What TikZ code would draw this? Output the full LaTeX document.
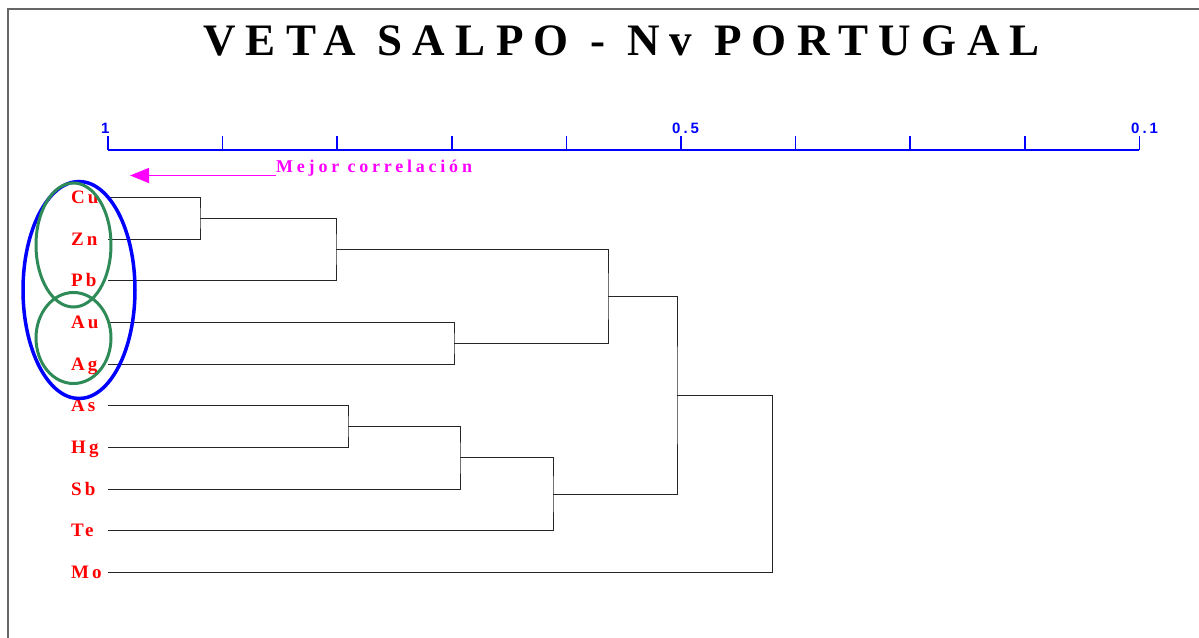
\documentclass[tikz,border=0pt]{standalone}
\usepackage{fontspec}
\setmainfont{Liberation Serif}
\newfontfamily\titleserif[LetterSpace=23]{Liberation Serif}
\newfontfamily\hintserif[LetterSpace=21]{Liberation Serif}
\newfontfamily\spacedserif[LetterSpace=16]{Liberation Serif}
\newfontfamily\spacedsans[LetterSpace=20]{Liberation Sans}
\usetikzlibrary{arrows.meta}
\definecolor{groupgreen}{RGB}{46,139,87}
\definecolor{hintpink}{RGB}{255,0,255}
\definecolor{axisblue}{RGB}{0,0,255}
\definecolor{labelred}{RGB}{255,0,0}

\begin{document}
\begin{tikzpicture}[x=1pt,y=-1pt,
  frameline/.style={draw=black!60, line width=1.5pt},
  axisline/.style={draw=axisblue, line width=1.5pt},
  ticklabel/.style={text=axisblue, inner sep=0pt, anchor=base west,
    font=\spacedsans\bfseries\fontsize{15}{15}\selectfont},
  titletext/.style={inner sep=0pt, anchor=base west,
    font=\titleserif\bfseries\fontsize{45}{45}\selectfont},
  hinttext/.style={text=hintpink, inner sep=0pt, anchor=base west,
    font=\hintserif\bfseries\fontsize{18}{18}\selectfont},
  leaflabel/.style={text=labelred, inner sep=0pt, anchor=base west,
    font=\spacedserif\bfseries\fontsize{19}{19}\selectfont},
  branch/.style={draw=black!85, line width=1pt},
  bigring/.style={draw=axisblue, line width=3.5pt},
  smallring/.style={draw=groupgreen, line width=3pt}]
\useasboundingbox (0,0) rectangle (1199,637);

% frame
\draw[frameline] (8,660) -- (8,9) -- (1210,9);

% title
\node[titletext] (title) at (203,55) {VETA SALPO - Nv PORTUGAL};

% similarity axis
\draw[axisline] (108,150) -- (1139.4,150);
\foreach \i in {0,...,9}
  \draw[axisline] ({108+\i*114.6},150) -- ({108+\i*114.6},136);
\node[ticklabel] (t1) at (101,133) {1};
\node[ticklabel] (t05) at (672,133) {0.5};
\node[ticklabel] (t01) at (1131,133) {0.1};

% direction hint
\node[hinttext] (hint) at (276,172) {Mejor correlación};
\coordinate (hinttail) at (276,175.5);
\coordinate (hinttip) at (130,175.5);
\draw[hintpink, line width=1.3pt, -{Triangle[length=19pt,width=15pt]}]
  (hinttail) -- (hinttip);

% leaves
\foreach \name [count=\k from 0] in {Cu,Zn,Pb,Au,Ag,As,Hg,Sb,Te,Mo} {
  \node[leaflabel] (lab\name) at (71,{197.3+\k*41.7+6}) {\name};
  \coordinate (\name) at (108,{197.3+\k*41.7});
}

% merge points
\coordinate (m1) at (200,218.2);
\coordinate (m2) at (336,249.4);
\coordinate (m3) at (454,343.3);
\coordinate (m4) at (608,296.3);
\coordinate (m5) at (348,426.6);
\coordinate (m6) at (460,457.9);
\coordinate (m7) at (553,494.4);
\coordinate (m8) at (677,395.4);
\coordinate (m9) at (772,484.0);

% dendrogram
\draw[branch] (Cu) -| (m1) |- (Zn);
\draw[branch] (m1) -| (m2) |- (Pb);
\draw[branch] (Au) -| (m3) |- (Ag);
\draw[branch] (m2) -| (m4) |- (m3);
\draw[branch] (As) -| (m5) |- (Hg);
\draw[branch] (m5) -| (m6) |- (Sb);
\draw[branch] (m6) -| (m7) |- (Te);
\draw[branch] (m4) -| (m8) |- (m7);
\draw[branch] (m8) -| (m9) |- (Mo);

% groups
\draw[bigring] (79,290) ellipse [x radius=56, y radius=108.5];
\draw[smallring] (73.5,245) ellipse [x radius=37.5, y radius=62];
\draw[smallring] (73.5,338) ellipse [x radius=37.5, y radius=45.5];
\end{tikzpicture}
\end{document}
